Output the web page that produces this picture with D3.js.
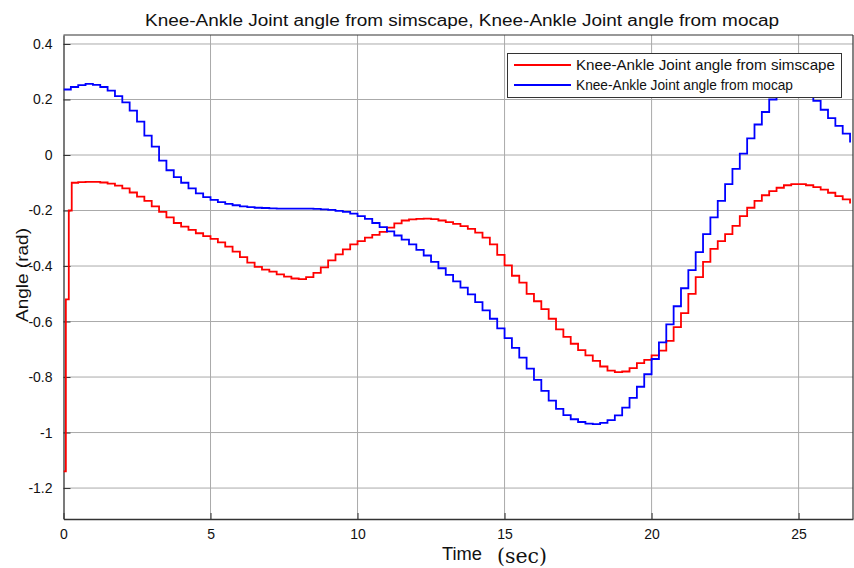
<!DOCTYPE html>
<html><head><meta charset="utf-8">
<script src="https://cdn.jsdelivr.net/npm/d3@7"></script>
<style>body{margin:0;background:#fff}svg{display:block}text{font-family:"Liberation Sans",Arial,sans-serif;fill:#111}</style>
</head><body>
<script>
// ---- data ----
const titleText = "Knee-Ankle Joint angle from simscape, Knee-Ankle Joint angle from mocap";
const seriesNames = ["Knee-Ankle Joint angle from simscape", "Knee-Ankle Joint angle from mocap"];
const xTicks = [0, 5, 10, 15, 20, 25];
const yTicks = [-1.2, -1, -0.8, -0.6, -0.4, -0.2, 0, 0.2, 0.4];
const yTickLabels = ["-1.2", "-1", "-0.8", "-0.6", "-0.4", "-0.2", "0", "0.2", "0.4"];
// sample grid (0.25 s)
const grid = d3.range(0.5, 27, 0.25);
const simscapeStartTime = [0, 0.08, 0.18, 0.28];
const simscapeStartVal = [-1.14, -0.52, -0.2, -0.1];
const simscapeVal = [
 -0.098,-0.097,-0.097,-0.099,-0.103,-0.11,-0.12,-0.135,-0.15,-0.165,
 -0.185,-0.205,-0.225,-0.245,-0.258,-0.27,-0.282,-0.292,-0.302,-0.315,
 -0.33,-0.348,-0.368,-0.388,-0.403,-0.413,-0.42,-0.43,-0.438,-0.445,
 -0.447,-0.44,-0.425,-0.405,-0.38,-0.358,-0.34,-0.322,-0.31,-0.298,
 -0.288,-0.277,-0.262,-0.246,-0.236,-0.232,-0.23,-0.229,-0.231,-0.236,
 -0.242,-0.248,-0.256,-0.266,-0.28,-0.298,-0.322,-0.36,-0.398,-0.435,
 -0.46,-0.5,-0.527,-0.555,-0.59,-0.628,-0.655,-0.68,-0.703,-0.722,
 -0.742,-0.762,-0.777,-0.782,-0.78,-0.768,-0.75,-0.738,-0.722,-0.705,
 -0.67,-0.62,-0.57,-0.5,-0.44,-0.385,-0.338,-0.31,-0.285,-0.255,
 -0.22,-0.19,-0.165,-0.145,-0.13,-0.118,-0.109,-0.105,-0.105,-0.109,
 -0.116,-0.125,-0.136,-0.148,-0.16,-0.175
];
const mocapStartTime = [0, 0.25];
const mocapStartVal = [0.236, 0.245];
const mocapVal = [
 0.252,0.256,0.253,0.245,0.232,0.212,0.19,0.16,0.12,0.07,
 0.03,-0.02,-0.055,-0.08,-0.1,-0.12,-0.138,-0.152,-0.162,-0.17,
 -0.176,-0.181,-0.185,-0.188,-0.19,-0.191,-0.192,-0.193,-0.193,-0.193,
 -0.193,-0.193,-0.194,-0.196,-0.198,-0.201,-0.205,-0.211,-0.22,-0.23,
 -0.245,-0.26,-0.275,-0.29,-0.305,-0.322,-0.342,-0.362,-0.385,-0.408,
 -0.432,-0.455,-0.478,-0.502,-0.53,-0.56,-0.59,-0.625,-0.66,-0.695,
 -0.73,-0.77,-0.81,-0.85,-0.885,-0.915,-0.937,-0.952,-0.962,-0.968,
 -0.97,-0.965,-0.955,-0.938,-0.91,-0.875,-0.835,-0.79,-0.735,-0.675,
 -0.61,-0.545,-0.48,-0.415,-0.35,-0.285,-0.225,-0.165,-0.105,-0.05,
 0.005,0.06,0.11,0.155,0.2,0.235,0.26,0.27,0.26,0.228,
 0.195,0.163,0.133,0.105,0.077,0.045
];
const colors = ["#ff0000", "#0000ff"];

// ---- layout ----
const W = 854, H = 568;
const m = {left: 63.5, right: 853, top: 35, bottom: 519};
const svg = d3.select("body").append("svg").attr("width", W).attr("height", H);
const x = d3.scaleLinear().domain([0, 26.85]).range([m.left, m.right]);
const y = d3.scaleLinear().domain([-1.3115, 0.4324]).range([m.bottom, m.top]);

// grid
const g = svg.append("g");
g.selectAll(".vg").data(xTicks.filter(d => d > 0)).join("line")
  .attr("x1", d => x(d)).attr("x2", d => x(d)).attr("y1", m.top).attr("y2", m.bottom)
  .attr("stroke", "#aaa").attr("stroke-width", 1);
g.selectAll(".hg").data(yTicks).join("line")
  .attr("x1", m.left).attr("x2", m.right).attr("y1", d => y(d)).attr("y2", d => y(d))
  .attr("stroke", "#aaa").attr("stroke-width", 1);

// axes
const xAxis = d3.axisBottom(x).tickValues(xTicks).tickSizeInner(-6).tickSizeOuter(0).tickPadding(10);
const yAxis = d3.axisLeft(y).tickValues(yTicks).tickFormat((d, i) => yTickLabels[i]).tickSizeInner(-7).tickSizeOuter(0).tickPadding(11);
const gx = svg.append("g").attr("transform", `translate(0,${m.bottom})`).call(xAxis);
const gy = svg.append("g").attr("transform", `translate(${m.left},0)`).call(yAxis);
[gx, gy].forEach(a => {
  a.select(".domain").attr("stroke", "#333").attr("stroke-width", 1.3);
  a.selectAll(".tick line").attr("stroke", "#333");
  a.selectAll(".tick text").style("font-size", "14px").attr("fill", "#111");
});
// top & right box lines
svg.append("line").attr("x1", m.left).attr("x2", m.right).attr("y1", m.top).attr("y2", m.top).attr("stroke", "#333").attr("stroke-width", 1.2);
svg.append("line").attr("x1", m.right).attr("x2", m.right).attr("y1", m.top).attr("y2", m.bottom).attr("stroke", "#333").attr("stroke-width", 1.2);

// lines
const line = d3.line().x(d => x(d[0])).y(d => y(d[1])).curve(d3.curveStepAfter);
const simData = simscapeStartTime.map((t, i) => [t, simscapeStartVal[i]]).concat(grid.map((t, i) => [t, simscapeVal[i]]));
const mocData = mocapStartTime.map((t, i) => [t, mocapStartVal[i]]).concat(grid.map((t, i) => [t, mocapVal[i]]));
const clip = svg.append("clipPath").attr("id", "c").append("rect")
  .attr("x", m.left).attr("y", m.top).attr("width", m.right - m.left).attr("height", m.bottom - m.top);
const lg = svg.append("g").attr("clip-path", "url(#c)");
[simData, mocData].forEach((d, i) => {
  lg.append("path").datum(d).attr("d", line).attr("fill", "none")
    .attr("stroke", colors[i]).attr("stroke-width", 1.8).attr("stroke-linejoin", "miter");
});

// title
svg.append("text").attr("x", 462).attr("y", 26).attr("text-anchor", "middle")
  .attr("textLength", 634).attr("lengthAdjust", "spacingAndGlyphs")
  .style("font-size", "16px").text(titleText);

// y label
svg.append("text").attr("transform", "translate(28,275) rotate(-90)").attr("text-anchor", "middle")
  .attr("textLength", 94).attr("lengthAdjust", "spacingAndGlyphs")
  .style("font-size", "17px").text("Angle (rad)");
// x label
svg.append("text").attr("x", 442).attr("y", 560).attr("textLength", 40).attr("lengthAdjust", "spacingAndGlyphs")
  .style("font-size", "18px").text("Time");
svg.append("text").attr("x", 497).attr("y", 563).style("font-size", "20px")
  .attr("textLength", 50).attr("lengthAdjust", "spacingAndGlyphs")
  .style("font-family", "'DejaVu Serif','Liberation Serif',serif").text("(sec)");

// legend
const leg = svg.append("g");
leg.append("rect").attr("x", 507.5).attr("y", 53.5).attr("width", 334).attr("height", 44)
  .attr("fill", "#fff").attr("stroke", "#333").attr("stroke-width", 1);
seriesNames.forEach((n, i) => {
  const yy = 65 + i * 20;
  leg.append("line").attr("x1", 514).attr("x2", 571).attr("y1", yy).attr("y2", yy)
    .attr("stroke", colors[i]).attr("stroke-width", 1.8);
  leg.append("text").attr("x", 576).attr("y", yy + 5).style("font-size", "15px")
    .attr("textLength", i === 0 ? 259 : 217).attr("lengthAdjust", "spacingAndGlyphs").text(n);
});
</script>
</body></html>
